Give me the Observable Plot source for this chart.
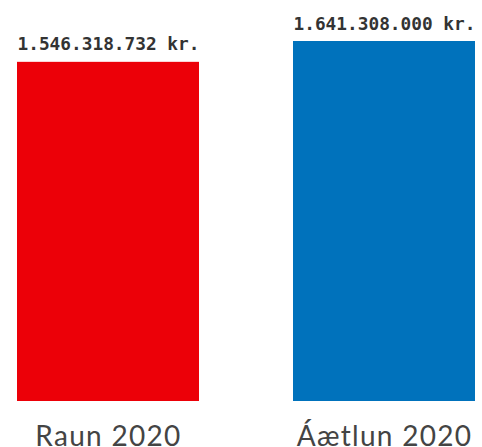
<!DOCTYPE html>
<html>
<head>
<meta charset="utf-8">
<script src="https://cdn.jsdelivr.net/npm/d3@7"></script>
<script src="https://cdn.jsdelivr.net/npm/@observablehq/plot@0.6"></script>
<style>
  html, body { margin: 0; padding: 0; background: #fff; }
</style>
</head>
<body>
<div id="chart"></div>
<script>
const categories = ["Raun 2020", "Áætlun 2020"];
const values = [1546318732, 1641308000];
const labels = ["1.546.318.732 kr.", "1.641.308.000 kr."];
const colors = ["#ec0008", "#0072bc"];

const data = categories.map((c, i) => ({name: c, value: values[i], label: labels[i], color: colors[i]}));

const chart = Plot.plot({
  width: 482,
  height: 447,
  marginTop: 41,
  marginBottom: 46,
  marginLeft: 17,
  marginRight: 7,
  style: {background: "#fff"},
  x: {domain: categories, paddingInner: 0.3406, paddingOuter: 0, axis: null},
  y: {domain: [0, d3.max(values)], axis: null},
  marks: [
    Plot.barY(data, {x: "name", y: "value", fill: "color"}),
    Plot.text(data, {
      x: "name", y: "value", text: "label", lineAnchor: "bottom", dy: -12,
      fontFamily: "DejaVu Sans Mono", fontWeight: "bold", fontSize: 17.8, fill: "#333"
    }),
    Plot.text(data, {
      x: "name", text: "name", frameAnchor: "bottom", lineAnchor: "bottom", dy: 44,
      fontFamily: "Lato", fontSize: 28, fill: "#444"
    })
  ]
});
const textGroups = chart.querySelectorAll('g[aria-label="text"]');
if (textGroups.length > 1) textGroups[1].style.letterSpacing = "1.3px";
document.getElementById("chart").appendChild(chart);
</script>
</body>
</html>
